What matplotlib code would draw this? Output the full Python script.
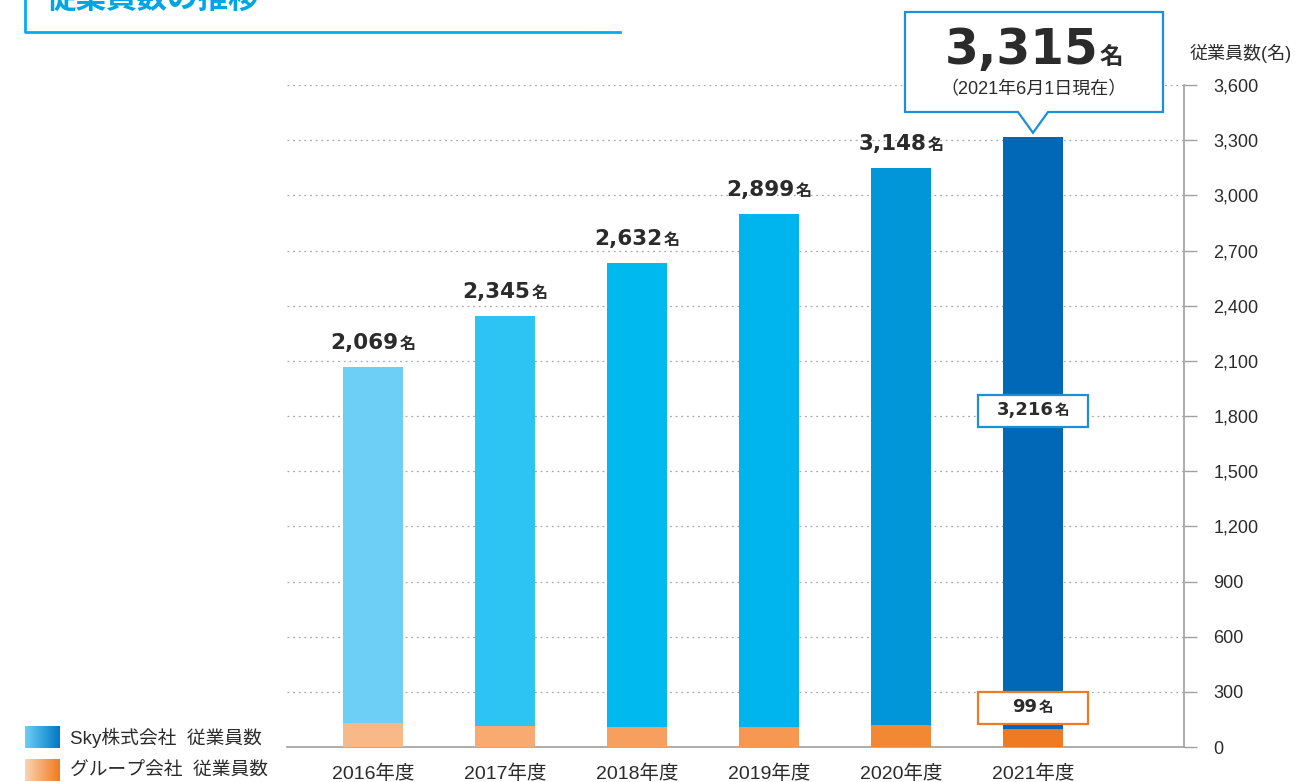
import matplotlib
matplotlib.use('Agg')
import matplotlib.pyplot as plt
import numpy as np
from matplotlib.patches import Rectangle, Polygon
from matplotlib.offsetbox import TextArea, HPacker, AnnotationBbox

plt.rcParams['font.family'] = ['Liberation Sans', 'Noto Sans CJK JP', 'DejaVu Sans']

# ---- data ----
years = ['2016年度', '2017年度', '2018年度', '2019年度', '2020年度', '2021年度']
sky = [1939, 2229, 2524, 2791, 3027, 3216]
group = [130, 116, 108, 108, 121, 99]
sky_colors = ['#6DCFF6', '#2DC4F3', '#00B9EF', '#00B5ED', '#0096D8', '#0068B6']
group_colors = ['#F9B887', '#F8AA70', '#F79F5E', '#F69852', '#F38834', '#F07A21']
yticks = [0, 300, 600, 900, 1200, 1500, 1800, 2100, 2400, 2700, 3000, 3300, 3600]
totals = [s + g for s, g in zip(sky, group)]

TXT = '#2B2B2B'
BLUE = '#1E8FD5'
ORANGE = '#F07A21'
GRAY = '#A0A0A0'
NUMFONT = ['DejaVu Sans']
CJK = ['Noto Sans CJK JP']
MIX = ['Liberation Sans', 'Noto Sans CJK JP']

W, H = 1297, 782
fig = plt.figure(figsize=(W / 100, H / 100), dpi=100)
ax = fig.add_axes([287 / W, 1 - 747 / H, (1184 - 287) / W, (747 - 85) / H])

x = np.arange(len(years))
bw = 0.455
ax.bar(x, group, width=bw, color=group_colors, zorder=3)
ax.bar(x, sky, bottom=group, width=bw, color=sky_colors, zorder=3)

ax.set_xlim((287 - 373) / 132, (1184 - 373) / 132)
ax.set_ylim(0, 3600)
ax.set_yticks(yticks)
ax.set_yticklabels([f'{v:,}' for v in yticks], fontsize=13, color=TXT, family=MIX)
ax.yaxis.tick_right()
ax.tick_params(axis='y', direction='out', length=9, width=1, color=GRAY, pad=12)
ax.set_xticks(x)
ax.set_xticklabels(years, fontsize=14, color=TXT, family=MIX)
ax.tick_params(axis='x', length=0, pad=13)
for s in ['left', 'top']:
    ax.spines[s].set_visible(False)
for s in ['right', 'bottom']:
    ax.spines[s].set_color(GRAY)
    ax.spines[s].set_linewidth(1.2)
ax.yaxis.grid(True, color='#A8A8A8', linestyle=(0, (1.5, 3)), linewidth=0.9, zorder=0)
ax.set_axisbelow(True)


def num_label(xv, yv, num, unit, size_num, size_unit, dy):
    ta1 = TextArea(num, textprops=dict(fontsize=size_num, fontweight='bold', color=TXT,
                                       family=NUMFONT))
    ta2 = TextArea(unit, textprops=dict(fontsize=size_unit, fontweight='bold', color=TXT,
                                        family=CJK))
    pk = HPacker(children=[ta1, ta2], align='baseline', pad=0, sep=1)
    ab = AnnotationBbox(pk, (xv, yv), xybox=(0, dy), xycoords='data',
                        boxcoords='offset points', box_alignment=(0.5, 0),
                        frameon=False, annotation_clip=False, zorder=6)
    ax.add_artist(ab)


# totals above bars (except last, which has callout)
for i in range(len(years) - 1):
    num_label(x[i], totals[i], f'{totals[i]:,}', '名', 15.5, 11.5, 10)

# callout for latest year
ppx = 132.0
ppy = (747 - 85) / 3600.0
bx0, bx1 = (905 - 373) / ppx, (1163 - 373) / ppx
by0, by1 = (747 - 112) / ppy, (747 - 12) / ppy
tipx, tipy = x[-1], totals[-1] + 25
hw = 15 / ppx
poly = Polygon([(bx0, by0), (tipx - hw, by0), (tipx, tipy), (tipx + hw, by0),
                (bx1, by0), (bx1, by1), (bx0, by1)], closed=True,
               facecolor='white', edgecolor=BLUE, linewidth=1.6, clip_on=False, zorder=5)
ax.add_patch(poly)
cx = (bx0 + bx1) / 2
num_label(cx, (747 - 74) / ppy, f'{totals[-1]:,}', '名', 35, 17, 0)
ax.text(cx, (747 - 90) / ppy, '（2021年6月1日現在）', ha='center', va='center',
        fontsize=13, color=TXT, zorder=6, clip_on=False, family=MIX)

# boxed labels on last bar
def boxed(yc, val, ec):
    w = 110 / ppx
    h = 32 / ppy
    r = Rectangle((x[-1] - w / 2, yc - h / 2), w, h, facecolor='white', edgecolor=ec,
                  linewidth=1.6, zorder=5)
    ax.add_patch(r)
    num_label(x[-1], yc - 8 / ppy, f'{val:,}', '名', 13, 10.5, 0)

boxed((747 - 411) / ppy, sky[-1], BLUE)
boxed((747 - 707.5) / ppy, group[-1], ORANGE)

# axis unit label
fig.text(1190 / W, 1 - 53 / H, '従業員数(名)', ha='left', va='center', fontsize=13,
         color=TXT, family=MIX)

# title (cut off at top) with bracket
fig.text(45 / W, 1 + 1 / H, '従業員数の推移', ha='left', va='center', fontsize=22,
         fontweight='bold', color='#00A6E4', family=CJK)
fig.add_artist(plt.Line2D([25 / W, 25 / W, 620 / W], [1.0, 1 - 32 / H, 1 - 32 / H],
                          transform=fig.transFigure, color='#00AEEF', linewidth=2))

# legend with gradient swatches
def swatch(ytop, c0, c1, label):
    lax = fig.add_axes([25 / W, 1 - (ytop + 22) / H, 35 / W, 22 / H])
    c0 = np.array(matplotlib.colors.to_rgb(c0))
    c1 = np.array(matplotlib.colors.to_rgb(c1))
    t = np.linspace(0, 1, 64)[None, :, None]
    img = c0 + (c1 - c0) * t
    lax.imshow(img, aspect='auto', extent=[0, 1, 0, 1])
    lax.axis('off')
    fig.text(70 / W, 1 - (ytop + 12) / H, label, ha='left', va='center', fontsize=13.5,
             color=TXT, family=MIX)

swatch(726, '#6DCFF6', '#0078C4', 'Sky株式会社  従業員数')
swatch(759, '#FCD3B2', '#F07A21', 'グループ会社  従業員数')

fig.savefig('out.png', dpi=100)
